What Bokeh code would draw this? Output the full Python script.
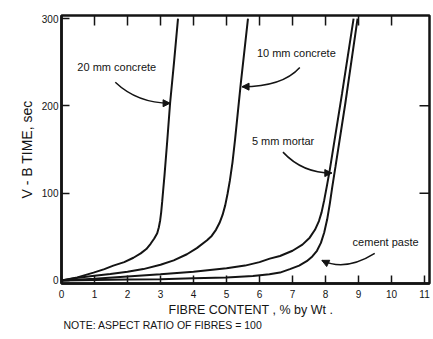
import math
from bokeh.plotting import figure
from bokeh.models import Range1d, FixedTicker, Arrow, NormalHead, Title
from bokeh.embed import file_html
from bokeh.resources import INLINE

# ---------------- data ----------------
x_ticks = [0, 1, 2, 3, 4, 5, 6, 7, 8, 9, 10, 11]
y_ticks = [0, 100, 200, 300]

c20_x = [0, 0.48, 0.97, 1.3, 1.57, 1.9, 2.18, 2.4, 2.57, 2.7, 2.81, 2.9, 2.95, 2.99, 3.02, 3.05, 3.08, 3.12, 3.2, 3.29, 3.41, 3.53]
c20_y = [0, 3.5, 9, 13, 17, 21, 26, 31, 36, 42, 48, 54, 61, 69, 78, 90, 103, 120, 158, 203, 250, 300]

c10_x = [0, 0.5, 1.0, 1.48, 2.0, 2.48, 3.0, 3.4, 3.8, 4.1, 4.41, 4.55, 4.68, 4.79, 4.88, 4.96, 5.03, 5.1, 5.18, 5.26, 5.43, 5.65]
c10_y = [0, 3, 5.5, 7.5, 10, 13, 18, 23, 30, 37, 46, 51, 58, 66, 75, 86, 99, 114, 135, 162, 225, 300]

mortar_x = [0, 1, 2, 3, 4, 5, 5.56, 6.0, 6.31, 6.62, 7.0, 7.3, 7.52, 7.68, 7.8, 7.88, 7.96, 8.04, 8.13, 8.5, 8.85]
mortar_y = [0, 2, 4.5, 7, 10, 14, 17, 21, 25, 28, 34, 41, 49, 58, 68, 78, 92, 108, 127, 214, 300]

paste_x = [0, 1, 2, 3, 4, 5, 5.8, 6.3, 6.62, 6.92, 7.2, 7.43, 7.6, 7.74, 7.86, 7.96, 8.05, 8.13, 8.2, 8.3, 8.6, 8.97]
paste_y = [0, 0.5, 1, 1.5, 2.5, 3.5, 5, 7, 9, 13, 17, 22, 27.5, 34, 43, 55, 70, 88, 106, 130, 203, 300]

curves_x = [c20_x, c10_x, mortar_x, paste_x]
curves_y = [c20_y, c10_y, mortar_y, paste_y]

labels_text = ["20 mm concrete", "10 mm concrete", "5 mm mortar", "cement paste"]
labels_x = [0.48, 5.92, 5.77, 8.82]
labels_y = [244, 260, 160, 43.5]

arrow_x0 = [1.63, 7.22, 6.71, 9.49]
arrow_y0 = [227, 244, 147, 31]
arrow_cx = [2.3, 6.7, 7.3, 8.6]
arrow_cy = [203, 222, 123, 10]
arrow_x1 = [3.29, 5.47, 8.19, 7.89]
arrow_y1 = [203, 222, 123, 23]

FONT = "Liberation Sans"
INK = "#141414"
X_MAX = 11.15
Y_MIN, Y_MAX = -3.5, 303.5

p = figure(width=433, height=339,
           x_range=Range1d(0, X_MAX), y_range=Range1d(Y_MIN, Y_MAX),
           output_backend="svg", toolbar_location=None,
           min_border_left=61, min_border_right=4,
           min_border_top=15, min_border_bottom=56,
           y_axis_label="V - B TIME, sec")

p.grid.visible = False
p.outline_line_color = INK
p.outline_line_width = 2.5
p.background_fill_color = "white"
p.border_fill_color = "white"

for ax in (p.xaxis[0], p.yaxis[0]):
    ax.major_tick_in = 8
    ax.major_tick_out = 0
    ax.minor_tick_line_color = None
    ax.major_tick_line_color = INK
    ax.major_tick_line_width = 1.5
    ax.axis_line_color = INK
    ax.axis_line_width = 2.5
    ax.major_label_text_font = FONT
    ax.major_label_text_font_size = "10px"
    ax.major_label_text_color = INK
    ax.axis_label_text_font = FONT
    ax.axis_label_text_font_style = "normal"
    ax.axis_label_text_color = INK

p.xaxis.ticker = FixedTicker(ticks=x_ticks)
p.yaxis.ticker = FixedTicker(ticks=y_ticks)
p.xaxis.major_label_standoff = 6
p.yaxis.major_label_standoff = 3
p.yaxis.axis_label_standoff = 4
p.yaxis.axis_label_text_font_size = "14px"

# inward ticks on the top and right edges of the frame
p.ray(x=x_ticks[1:-1], y=[Y_MAX] * (len(x_ticks) - 2), length=10,
      length_units="screen", angle=-math.pi / 2,
      line_color=INK, line_width=1.5)
p.ray(x=[X_MAX] * (len(y_ticks) - 2), y=y_ticks[1:-1], length=10,
      length_units="screen", angle=math.pi,
      line_color=INK, line_width=1.5)

for cx, cy in zip(curves_x, curves_y):
    p.line(cx, cy, line_color=INK, line_width=2)

p.text(x=labels_x, y=labels_y, text=labels_text,
       text_font={"value": FONT}, text_font_size="11px",
       text_color=INK, text_align="left", text_baseline="middle")

p.quadratic(x0=arrow_x0, y0=arrow_y0, x1=arrow_x1, y1=arrow_y1,
            cx=arrow_cx, cy=arrow_cy, line_color=INK, line_width=1.5)
for x1, y1, cx, cy in zip(arrow_x1, arrow_y1, arrow_cx, arrow_cy):
    t = 0.15
    p.add_layout(Arrow(x_start=x1 - t * (x1 - cx), y_start=y1 - t * (y1 - cy),
                       x_end=x1, y_end=y1, line_color=INK, line_width=1.5,
                       end=NormalHead(size=7, fill_color=INK, line_color=INK)))

xlabel = Title(text="FIBRE CONTENT , % by Wt .", align="left",
               text_font=FONT, text_font_size="12.5px", text_font_style="normal",
               text_color=INK, offset=107, standoff=0)
p.add_layout(xlabel, "below")

note = Title(text="NOTE: ASPECT RATIO OF FIBRES = 100", align="left",
             text_font=FONT, text_font_size="10.5px", text_font_style="normal",
             text_color=INK, offset=2, standoff=0)
p.add_layout(note, "below")

open("out.html", "w").write(file_html(p, INLINE))
